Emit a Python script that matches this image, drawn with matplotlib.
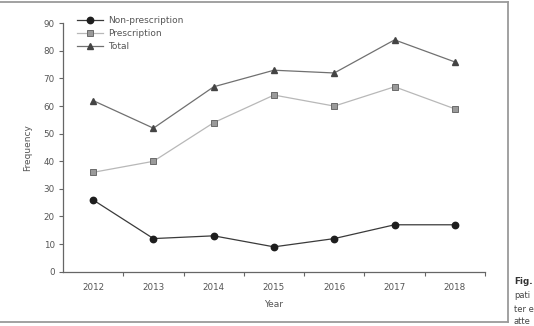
import matplotlib
matplotlib.use("Agg")
import matplotlib.pyplot as plt
from matplotlib.lines import Line2D

# data
years = ["2012", "2013", "2014", "2015", "2016", "2017", "2018"]
non_prescription = [26, 12, 13, 9, 12, 17, 17]
prescription = [36, 40, 54, 64, 60, 67, 59]
total = [62, 52, 67, 73, 72, 84, 76]

yticks = [0, 10, 20, 30, 40, 50, 60, 70, 80, 90]

TEKS = "#555555"
SUMBU = "#666666"

plt.rcParams['font.family'] = ['DejaVu Sans']

fig = plt.figure(figsize=(5.34, 3.26), dpi=100)
ax = fig.add_axes([63 / 534, 1 - 271.7 / 326, 422 / 534, 248.4 / 326])

x = list(range(len(years)))
ax.plot(x, non_prescription, color="#3a3a3a", lw=0.9, marker="o", ms=4.6,
        mfc="#1e1e1e", mec="#1e1e1e", label="Non-prescription")
ax.plot(x, prescription, color="#b8b8b8", lw=0.9, marker="s", ms=4.4,
        mfc="#9a9a9a", mec="#6a6a6a", mew=0.7, label="Prescription")
ax.plot(x, total, color="#707070", lw=0.9, marker="^", ms=4.8,
        mfc="#444444", mec="#444444", label="Total")

ax.set_xlim(-0.5, len(years) - 0.5)
ax.set_ylim(0, 90)
ax.set_yticks(yticks)
ax.set_xticks(x)
ax.set_xticklabels(years)
# tick marks sit between the categories
ax.set_xticks([i + 0.5 for i in x], minor=True)
ax.tick_params(axis="x", which="major", length=0, pad=8, labelsize=6.3, labelcolor=TEKS)
ax.tick_params(axis="x", which="minor", length=3, width=0.8, color=SUMBU, direction="out")
ax.tick_params(axis="y", length=3, width=0.8, color=SUMBU, pad=3, labelsize=6.3, labelcolor=TEKS)

for s in ["top", "right"]:
    ax.spines[s].set_visible(False)
for s in ["left", "bottom"]:
    ax.spines[s].set_color(SUMBU)
    ax.spines[s].set_linewidth(0.9)

ax.set_xlabel("Year", fontsize=6.5, color=TEKS, labelpad=6)
ax.set_ylabel("Frequency", fontsize=6.5, color=TEKS, labelpad=8)

leg = ax.legend(loc="upper left", bbox_to_anchor=(0.025, 1.045), frameon=False,
                fontsize=6.5, handlelength=2.9, handletextpad=0.5,
                labelspacing=0.45, borderaxespad=0)
for t in leg.get_texts():
    t.set_color(TEKS)

# bingkai gambar
garis = dict(color="#9a9a9a", lw=1.3, transform=fig.transFigure)
fig.add_artist(Line2D([0, 508 / 534], [1 - 2 / 326, 1 - 2 / 326], **garis))
fig.add_artist(Line2D([508 / 534, 508 / 534], [1 - 2 / 326, 1 - 322 / 326], **garis))
fig.add_artist(Line2D([0, 508 / 534], [1 - 322 / 326, 1 - 322 / 326], **garis))

# potongan keterangan gambar di kanan (terpotong di tepi seperti aslinya)
fig.text(514 / 534, 1 - 282 / 326, "Fig.", fontsize=6.3, fontweight="bold",
         color="#333333", va="center")
for yy, s in [(295, "pati"), (309, "ter e"), (321, "atte")]:
    fig.text(514 / 534, 1 - yy / 326, s, fontsize=6, color="#444444", va="center")

fig.savefig("out.png", dpi=100)
